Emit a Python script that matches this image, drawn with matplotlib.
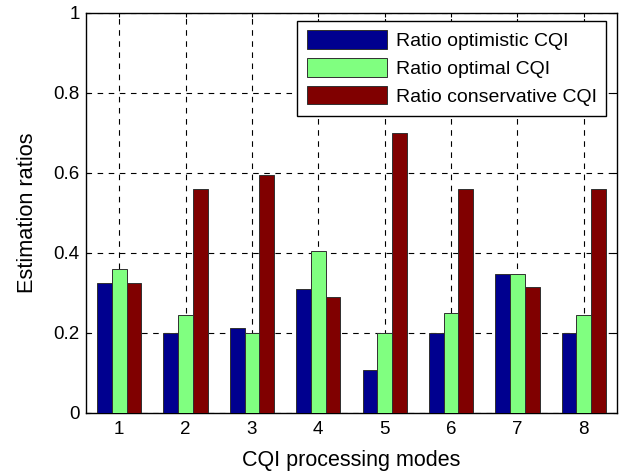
import matplotlib
matplotlib.use("Agg")
import matplotlib.pyplot as plt
import numpy as np

plt.rcParams['font.family'] = ['Liberation Sans', 'DejaVu Sans']

modes = [1, 2, 3, 4, 5, 6, 7, 8]
optimistic = [0.325, 0.200, 0.211, 0.310, 0.106, 0.200, 0.346, 0.200]
optimal = [0.360, 0.245, 0.200, 0.405, 0.200, 0.250, 0.346, 0.245]
conservative = [0.325, 0.560, 0.595, 0.290, 0.700, 0.560, 0.315, 0.560]
series_labels = ['Ratio optimistic CQI', 'Ratio optimal CQI', 'Ratio conservative CQI']
colors = ['#00008F', '#80FF80', '#800000']

fig = plt.figure(figsize=(6.21, 4.72), dpi=100)
ax = fig.add_axes([0.1385, 0.126, 0.855, 0.8475])

x = np.array(modes, dtype=float)
w = 0.222
for i, (vals, lab, c) in enumerate(zip([optimistic, optimal, conservative], series_labels, colors)):
    ax.bar(x + (i - 1) * w, vals, width=w, color=c, edgecolor='#303030', linewidth=0.7,
           label=lab, zorder=3)

ax.set_xlim(0.5, 8.5)
ax.set_ylim(0, 1)
ax.set_xticks(modes)
ax.set_yticks([0, 0.2, 0.4, 0.6, 0.8, 1])
ax.set_yticklabels(['0', '0.2', '0.4', '0.6', '0.8', '1'])
ax.tick_params(direction='in', length=3, width=0.8, top=True, right=True,
               labelsize=13.5)
ax.tick_params(axis='x', pad=6)
ax.tick_params(axis='y', pad=4.5)
ax.grid(True, color='black', linestyle=(0, (5, 5)), linewidth=0.8, zorder=0)
ax.set_axisbelow(True)
for s in ax.spines.values():
    s.set_linewidth(1.0)

ax.set_xlabel('CQI processing modes', fontsize=15.5, labelpad=8.5)
ax.set_ylabel('Estimation ratios', fontsize=15.7, labelpad=11)

leg = ax.legend(loc='upper right', bbox_to_anchor=(0.980, 0.9795), fontsize=14,
                handlelength=4.1, handleheight=1.08, labelspacing=0.41,
                handletextpad=0.46, borderpad=0.5, borderaxespad=0,
                fancybox=False, framealpha=1, edgecolor='black')
leg.get_frame().set_linewidth(1.0)

fig.savefig('out.png', dpi=100)
